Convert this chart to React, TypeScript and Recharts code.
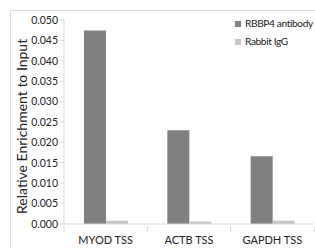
import React from 'react';
import { BarChart, Bar, XAxis, YAxis } from 'recharts';

const categories = ['MYOD TSS', 'ACTB TSS', 'GAPDH TSS'];
const rbbp4 = [0.0474, 0.0230, 0.0166];
const igg = [0.0008, 0.0006, 0.0008];
const yTicks = [0, 0.005, 0.01, 0.015, 0.02, 0.025, 0.03, 0.035, 0.04, 0.045, 0.05];
const seriesNames = ['RBBP4 antibody', 'Rabbit IgG'];
const seriesColors = ['#808080', '#c6c6c6'];

const data = categories.map((c, i) => ({ name: c, rbbp4: rbbp4[i], igg: igg[i] }));

const FONT = 'Lato, "Open Sans", sans-serif';
const W = 315;
const H = 248;
const M = { top: 20, right: 1, left: 14, bottom: 0 };
const YW = 50;
const plotW = W - M.left - M.right - YW;
const band = plotW / categories.length;

const XTick = (props: any) => {
  const { x, y, payload, index } = props;
  return (
    <g>
      <line x1={x + band / 2} y1={y - 6} x2={x + band / 2} y2={y} stroke="#d9d9d9" />
      {index === 0 ? <line x1={x - band / 2} y1={y - 6} x2={x - band / 2} y2={y} stroke="#d9d9d9" /> : null}
      <text x={x} y={y + 12} textAnchor="middle" fontSize={11} fill="#222" fontFamily={FONT}>
        {payload.value}
      </text>
    </g>
  );
};

export default function App() {
  return (
    <div style={{ position: 'relative', width: W, height: H, overflow: 'hidden' }}>
      <style>{`html,body{margin:0;padding:0;overflow:hidden;}`}</style>
      <div style={{ position: 'absolute', left: 10, top: 10, right: 0, bottom: 0, borderTop: '1px solid #dcdcdc', borderLeft: '1px solid #dcdcdc' }} />
      <BarChart width={W} height={H} data={data} margin={M} barCategoryGap="24%" barGap={0}>
        <XAxis
          dataKey="name"
          axisLine={{ stroke: '#d9d9d9' }}
          tickLine={false}
          tick={<XTick />}
          height={24}
          interval={0}
        />
        <YAxis
          width={YW}
          domain={[0, 0.05]}
          ticks={yTicks}
          tickFormatter={(v: number) => v.toFixed(3)}
          axisLine={{ stroke: '#d9d9d9' }}
          tickLine={{ stroke: '#d9d9d9' }}
          tickSize={4}
          tick={{ fontSize: 10.5, fill: '#222', fontFamily: FONT }}
          interval={0}
          label={{ value: 'Relative Enrichment to Input', angle: -90, position: 'insideLeft', dx: 3, dy: 92, style: { fontSize: 14, fill: '#222', fontFamily: FONT } }}
        />
        <Bar dataKey="rbbp4" name={seriesNames[0]} fill={seriesColors[0]} isAnimationActive={false} />
        <Bar dataKey="igg" name={seriesNames[1]} fill={seriesColors[1]} isAnimationActive={false} />
      </BarChart>
      <div style={{ position: 'absolute', left: 235, top: 14, fontFamily: FONT, fontSize: 10.2, letterSpacing: -0.4, color: '#222', lineHeight: '18px', whiteSpace: 'nowrap' }}>
        {seriesNames.map((n, i) => (
          <div key={n}>
            <span style={{ display: 'inline-block', width: 6, height: 6, background: seriesColors[i], marginRight: 4, verticalAlign: 'middle' }} />
            {n}
          </div>
        ))}
      </div>
    </div>
  );
}
